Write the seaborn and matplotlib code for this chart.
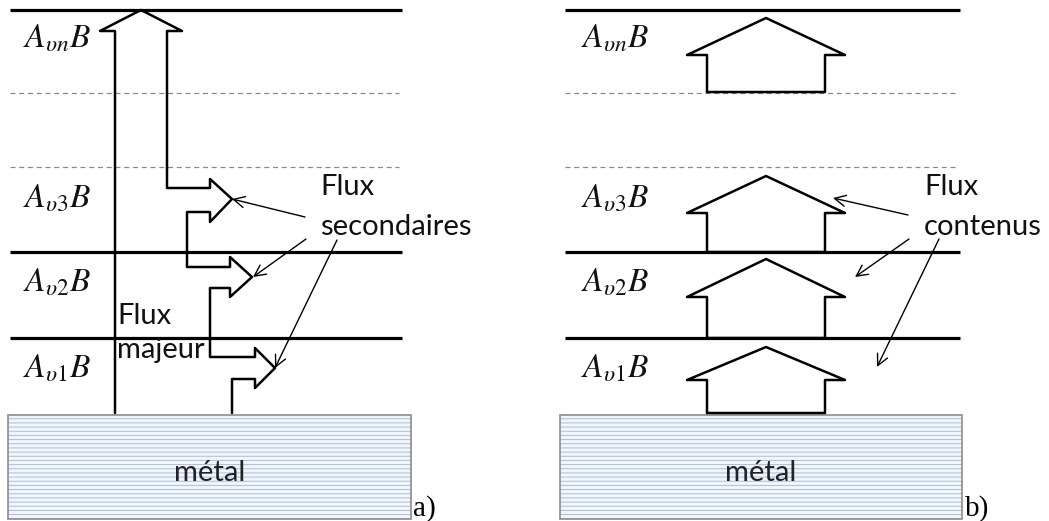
import numpy as np
import pandas as pd
import matplotlib.pyplot as plt
import seaborn as sns
from matplotlib.patches import Rectangle

# Diagram geometry (pixel space, y grows downward)
solid_levels = [10, 252, 338]
dashed_levels = [93, 167]
level_labels = [r'$A_{\upsilon n}B$', r'$A_{\upsilon 3}B$', r'$A_{\upsilon 2}B$', r'$A_{\upsilon 1}B$']
label_base = [47, 208, 292, 377]

# panel a) : main flux with secondary branches
flux_x = [115, 115, 100, 141, 182, 167, 167, 210, 210, 232, 210, 210, 187, 187,
          230, 230, 252, 230, 230, 210, 210, 255, 255, 275, 255, 255, 232, 232]
flux_y = [413, 31, 31, 10, 31, 31, 188, 188, 179, 199, 222, 212, 212, 267,
          267, 257, 277, 297, 288, 288, 357, 357, 348, 368, 388, 379, 379, 413]

# panel b) : contained flux per layer (base, wing, tip)
house_base = [92, 252, 338, 413]
house_wing = [55, 213, 297, 380]
house_tip = [18, 176, 259, 347]

# pointer lines (start -> end)
ptr_a = [((305, 217), (232, 199)), ((306, 239), (253, 277)), ((337, 240), (275, 368))]
ptr_b = [((908, 215), (833, 198)), ((909, 239), (855, 277)), ((939, 239), (877, 367))]

sns.set_theme(style='white')
plt.rcParams['font.family'] = ['Lato', 'DejaVu Sans']
plt.rcParams['mathtext.fontset'] = 'stix'
plt.rcParams['hatch.linewidth'] = 0.7

fig = plt.figure(figsize=(10.49, 5.21), dpi=100)
ax = fig.add_axes([0, 0, 1, 1])
ax.set_xlim(0, 1049)
ax.set_ylim(521, 0)
ax.axis('off')

panels = [(10, 402, 8, 411, 23), (565, 960, 560, 962, 581)]

for x0, x1, mx0, mx1, lx in panels:
    ax.hlines(solid_levels, x0, x1, color='black', lw=2.3, zorder=2)
    ax.hlines(dashed_levels, x0, x1 - 3, color='#888888', lw=0.9,
              linestyles=(0, (4, 3)), zorder=2)
    ax.add_patch(Rectangle((mx0, 415), mx1 - mx0, 104, facecolor='#f2f6fb',
                           edgecolor='#a9bedb', hatch='----', lw=0, zorder=1))
    ax.add_patch(Rectangle((mx0, 415), mx1 - mx0, 104, facecolor='none',
                           edgecolor='#8c8c8c', lw=1.2, zorder=2))
    ax.text((mx0 + mx1) / 2, 481, 'métal', ha='center', va='baseline',
            fontsize=21, color='#222222', zorder=3)
    for lab, y in zip(level_labels, label_base):
        ax.text(lx, y, lab, ha='left', va='baseline', fontsize=24, color='#111111')

# main flux outline
sns.lineplot(x=flux_x, y=flux_y, sort=False, estimator=None, color='black',
             lw=1.8, ax=ax, zorder=4)

# contained flux houses
for b, w, t in zip(house_base, house_wing, house_tip):
    hx = [707, 707, 687, 766, 845, 825, 825, 707]
    hy = [b, w, w, t, w, w, b, b]
    sns.lineplot(x=hx, y=hy, sort=False, estimator=None, color='black',
                 lw=1.8, ax=ax, zorder=4)

for (s, e) in ptr_a + ptr_b:
    ax.annotate('', xy=e, xytext=s,
                arrowprops=dict(arrowstyle='->', lw=1.0, color='black',
                                mutation_scale=20, shrinkA=0, shrinkB=0))

txt = dict(ha='left', va='baseline', fontsize=21, color='#111111')
ax.text(320, 195, 'Flux', **txt)
ax.text(320, 235, 'secondaires', **txt)
ax.text(924, 195, 'Flux', **txt)
ax.text(924, 235, 'contenus', **txt)
ax.text(117, 324, 'Flux', **txt)
ax.text(117, 358, 'majeur', **txt)

ax.text(413, 516, 'a)', ha='left', va='baseline', fontsize=21,
        family='Liberation Serif', color='black')
ax.text(965, 516, 'b)', ha='left', va='baseline', fontsize=21,
        family='Liberation Serif', color='black')

fig.savefig('out.png', dpi=100)
